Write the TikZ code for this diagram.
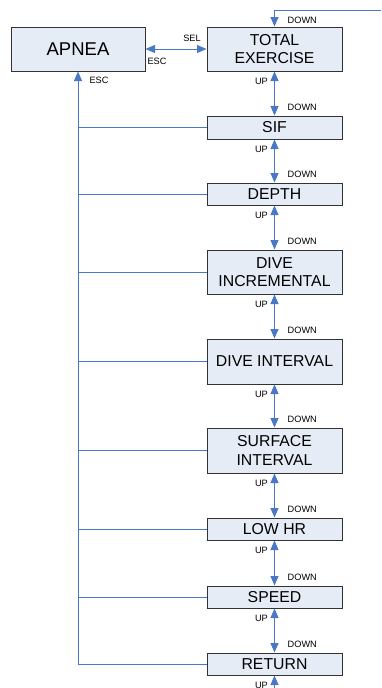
\documentclass[tikz,border=0pt]{standalone}
\usepackage{fontspec}
\setmainfont{Liberation Sans}
\usetikzlibrary{arrows.meta}
\definecolor{lineblue}{HTML}{4A78C4}
\definecolor{boxfill}{HTML}{E6ECF6}
\definecolor{boxline}{HTML}{333333}
\begin{document}
\begin{tikzpicture}[x=1pt,y=1pt,
  box/.style={draw=boxline,line width=1pt,fill=boxfill,minimum width=135pt,inner sep=0pt,align=center,font=\fontsize{15.8}{18.5}\selectfont},
  conn/.style={draw=lineblue,line width=0.9pt},
  tip/.style={-{Triangle[length=9.5pt,width=8pt]}},
  both/.style={{Triangle[length=9.5pt,width=8pt]}-{Triangle[length=9.5pt,width=8pt]}},
  lbl/.style={font=\fontsize{9.2}{10}\selectfont,inner sep=0pt}]
\useasboundingbox (0,0) rectangle (381,-688);
\node[box,minimum width=134pt,minimum height=44pt,font=\fontsize{18.5}{20}\selectfont] (apnea) at (78,-49) {APNEA};
\node[box,minimum height=44pt] (total) at (274.5,-49) {TOTAL\\EXERCISE};
\node[box,minimum height=23pt] (sif) at (274.5,-127.5) {SIF};
\node[box,minimum height=22pt] (depth) at (274.5,-194) {DEPTH};
\node[box,minimum height=44pt] (diveinc) at (274.5,-272) {DIVE\\INCREMENTAL};
\node[box,minimum height=45pt] (diveint) at (274.5,-361.5) {DIVE INTERVAL};
\node[box,minimum height=45pt] (surf) at (274.5,-450.5) {SURFACE\\INTERVAL};
\node[box,minimum height=22pt] (lowhr) at (274.5,-529) {LOW HR};
\node[box,minimum height=22pt] (speed) at (274.5,-597) {SPEED};
\node[box,minimum height=22pt] (ret) at (274.5,-664) {RETURN};
\coordinate (topin) at (381,-10);
\coordinate (botin) at (274.5,-688);
% top incoming
\draw[conn,tip] (topin) -| (total.north);
\node[lbl,anchor=west] (d0) at (287.5,-20) {DOWN};
% SEL / ESC
\draw[conn,both] (apnea.east) -- (total.west);
\node[lbl] (sel) at (192,-38.5) {SEL};
\node[lbl] (esc1) at (157,-61.5) {ESC};
% left bus
\draw[conn,tip] (ret.west) -| (apnea.south);
\node[lbl] (esc2) at (99,-80.5) {ESC};
\foreach \n in {sif,depth,diveinc,diveint,surf,lowhr,speed}
  \draw[conn] (\n.west) -- (\n.west -| apnea.south);
% vertical chain
\foreach \a/\b/\i in {total/sif/1,sif/depth/2,depth/diveinc/3,diveinc/diveint/4,diveint/surf/5,surf/lowhr/6,lowhr/speed/7,speed/ret/8}{
  \draw[conn,both] (\a.south) -- (\b.north);
  \node[lbl,anchor=east] (up\i) at ([xshift=-6.5pt,yshift=-9.5pt]\a.south) {UP};
  \node[lbl,anchor=west] (dn\i) at ([xshift=13pt,yshift=8pt]\b.north) {DOWN};
}
\draw[conn,tip] (botin) -- (ret.south);
\node[lbl,anchor=east] (up9) at ([xshift=-6.5pt,yshift=-9.5pt]ret.south) {UP};
\end{tikzpicture}
\end{document}
